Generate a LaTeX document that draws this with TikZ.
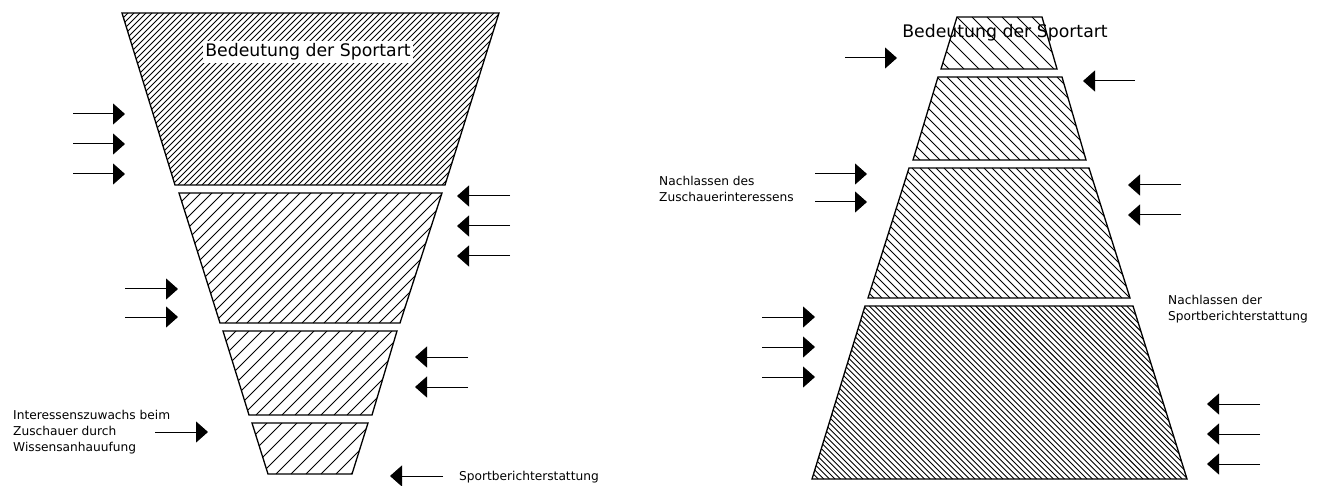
\documentclass[tikz,border=0pt]{standalone}
\usepackage{fontspec}
\setmainfont{DejaVu Sans}
\usetikzlibrary{arrows.meta}

\tikzset{
  bandedge/.style={draw=black, line width=1.3pt, line join=miter},
  hatchline/.style={draw=black, line width=0.9pt},
  arr/.style={draw=black, line width=1pt, -{Triangle[length=12pt,width=21pt]}},
  lbl/.style={font=\fontsize{12.2}{16}\selectfont, align=left, inner sep=0pt, anchor=west},
  ttl/.style={font=\fontsize{17.3}{20}\selectfont, inner sep=2.5pt},
}

% One hatched trapezoid band:
% name, top y, top left x, top right x, bottom y, bottom left x, bottom right x,
% horizontal hatch spacing, hatch direction (1 = "/", -1 = "\")
\newcommand{\hatchband}[9]{%
  \coordinate (#1-tl) at (#3,#2);
  \coordinate (#1-tr) at (#4,#2);
  \coordinate (#1-br) at (#7,#5);
  \coordinate (#1-bl) at (#6,#5);
  \begin{scope}
    \clip (#1-tl) -- (#1-tr) -- (#1-br) -- (#1-bl) -- cycle;
    \pgfmathsetmacro{\bh}{#5-#2}
    \pgfmathsetmacro{\xfrom}{min(#3,#6)-\bh}
    \pgfmathsetmacro{\xnext}{\xfrom+#8}
    \pgfmathsetmacro{\xto}{max(#4,#7)+\bh}
    \foreach \xx in {\xfrom,\xnext,...,\xto}
      \draw[hatchline] (\xx,#5) -- ++(#9*\bh,-\bh);
  \end{scope}
  \draw[bandedge] (#1-tl) -- (#1-tr) -- (#1-br) -- (#1-bl) -- cycle;
}

\begin{document}
\begin{tikzpicture}[x=1pt, y=-1pt]
  \useasboundingbox (0,0) rectangle (1322,486);

  % ---------- funnel (left) ----------
  \hatchband{fa}{13}{122}{499}{185}{175}{445}{6}{1}
  \hatchband{fb}{193}{179}{442}{323}{220}{400}{11}{1}
  \hatchband{fc}{331}{223}{397}{415}{249}{372}{13}{1}
  \hatchband{fd}{423}{252}{368}{474}{268}{352}{15}{1}

  \node[ttl, fill=white] (ftitle) at (308,52) {Bedeutung der Sportart};

  % arrows pushing inwards from the left
  \foreach \n/\y in {1/114, 2/144, 3/174} {
    \coordinate (fl\n s) at (73,\y);
    \coordinate (fl\n e) at (125,\y);
    \draw[arr] (fl\n s) -- (fl\n e);
  }
  \foreach \n/\y in {4/289, 5/317} {
    \coordinate (fl\n s) at (125,\y);
    \coordinate (fl\n e) at (178,\y);
    \draw[arr] (fl\n s) -- (fl\n e);
  }
  \coordinate (fl6s) at (155,432);
  \coordinate (fl6e) at (208,432);
  \draw[arr] (fl6s) -- (fl6e);

  % arrows pushing inwards from the right
  \foreach \n/\y in {1/196, 2/226, 3/256} {
    \coordinate (fr\n s) at (510,\y);
    \coordinate (fr\n e) at (457,\y);
    \draw[arr] (fr\n s) -- (fr\n e);
  }
  \foreach \n/\y in {4/357, 5/387} {
    \coordinate (fr\n s) at (468,\y);
    \coordinate (fr\n e) at (415,\y);
    \draw[arr] (fr\n s) -- (fr\n e);
  }
  \coordinate (fr6s) at (443,476);
  \coordinate (fr6e) at (390,476);
  \draw[arr] (fr6s) -- (fr6e);

  \node[lbl] (fgain) at (13,432)
    {Interessenszuwachs beim\\Zuschauer durch\\Wissensanhauufung};
  \node[lbl] (fmedia) at (459,477) {Sportberichterstattung};

  % ---------- pyramid (right) ----------
  \hatchband{pa}{17}{957}{1042}{69}{941}{1057}{15}{-1}
  \hatchband{pb}{77}{938}{1062}{160}{913}{1086}{10}{-1}
  \hatchband{pc}{168}{909}{1089}{298}{868}{1130}{8}{-1}
  \hatchband{pd}{306}{865}{1133}{479}{812}{1187}{5.6}{-1}

  \node[ttl] (ptitle) at (1005,33) {Bedeutung der Sportart};

  % arrows from the left
  \coordinate (pl1s) at (845,58);
  \coordinate (pl1e) at (897,58);
  \draw[arr] (pl1s) -- (pl1e);
  \foreach \n/\y in {2/174, 3/202} {
    \coordinate (pl\n s) at (815,\y);
    \coordinate (pl\n e) at (867,\y);
    \draw[arr] (pl\n s) -- (pl\n e);
  }
  \foreach \n/\y in {4/317, 5/347, 6/377} {
    \coordinate (pl\n s) at (762,\y);
    \coordinate (pl\n e) at (815,\y);
    \draw[arr] (pl\n s) -- (pl\n e);
  }

  % arrows from the right
  \coordinate (pr1s) at (1135,81);
  \coordinate (pr1e) at (1083,81);
  \draw[arr] (pr1s) -- (pr1e);
  \foreach \n/\y in {2/185, 3/215} {
    \coordinate (pr\n s) at (1181,\y);
    \coordinate (pr\n e) at (1128,\y);
    \draw[arr] (pr\n s) -- (pr\n e);
  }
  \foreach \n/\y in {4/404, 5/434, 6/464} {
    \coordinate (pr\n s) at (1260,\y);
    \coordinate (pr\n e) at (1207,\y);
    \draw[arr] (pr\n s) -- (pr\n e);
  }

  \node[lbl] (pviewers) at (659,189) {Nachlassen des\\Zuschauerinteressens};
  \node[lbl] (pmedia) at (1168,309) {Nachlassen der\\Sportberichterstattung};
\end{tikzpicture}
\end{document}
